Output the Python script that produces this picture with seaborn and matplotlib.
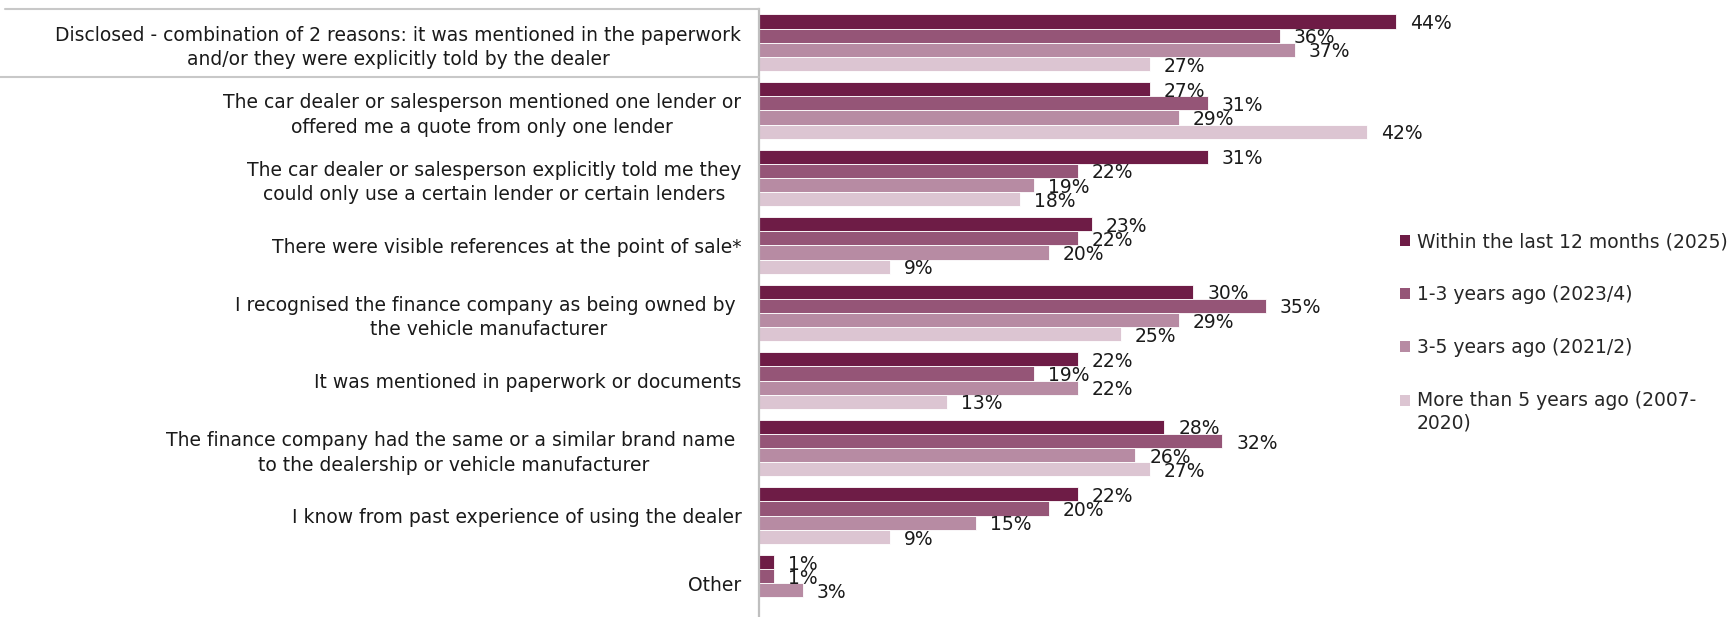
import numpy as np
import pandas as pd
import seaborn as sns
import matplotlib.pyplot as plt
from matplotlib.patches import Patch, Rectangle
from matplotlib.legend_handler import HandlerPatch
from matplotlib.lines import Line2D
from matplotlib.transforms import blended_transform_factory

reasons = [
    "Disclosed - combination of 2 reasons: it was mentioned in the paperwork\nand/or they were explicitly told by the dealer",
    "The car dealer or salesperson mentioned one lender or\noffered me a quote from only one lender",
    "The car dealer or salesperson explicitly told me they\ncould only use a certain lender or certain lenders",
    "There were visible references at the point of sale*",
    "I recognised the finance company as being owned by \nthe vehicle manufacturer",
    "It was mentioned in paperwork or documents",
    "The finance company had the same or a similar brand name \nto the dealership or vehicle manufacturer",
    "I know from past experience of using the dealer",
    "Other",
]
periods = [
    "Within the last 12 months (2025)",
    "1-3 years ago (2023/4)",
    "3-5 years ago (2021/2)",
    "More than 5 years ago (2007-\n2020)",
]
within_12m = [44, 27, 31, 23, 30, 22, 28, 22, 1]
years_1_3 = [36, 31, 22, 22, 35, 19, 32, 20, 1]
years_3_5 = [37, 29, 19, 20, 29, 22, 26, 15, 3]
over_5y = [27, 42, 18, 9, 25, 13, 27, 9, np.nan]

colors = ["#6E1C46", "#955577", "#B78BA3", "#DCC5D2"]

series = [within_12m, years_1_3, years_3_5, over_5y]
df = pd.DataFrame(
    [(r, p, v) for p, vals in zip(periods, series) for r, v in zip(reasons, vals)],
    columns=["reason", "period", "pct"],
)

sns.set_style("white")
plt.rcParams["font.family"] = ["DejaVu Sans"]
FS = 13.5

W, H = 1731, 617
fig = plt.figure(figsize=(W / 100, H / 100), dpi=100)
x0 = 759.5 / W
ax = fig.add_axes([x0, 0.0, 50 * 14.46 / W, 1 - 9 / H])

sns.barplot(
    data=df, y="reason", x="pct", hue="period", orient="h",
    order=reasons, hue_order=periods, palette=colors, saturation=1,
    width=0.84, errorbar=None, edgecolor="white", linewidth=0.6,
    legend=False, ax=ax,
)

for cont in ax.containers:
    labels = ["" if np.isnan(v) else f"{v:.0f}%" for v in cont.datavalues]
    anns = ax.bar_label(cont, labels=labels, padding=10, fontsize=FS, color="#1a1a1a")
    for a in anns:
        a.xyann = (10, -1.5)

ax.set_xlim(0, 50)
ax.set_ylim(len(reasons) - 0.5, -0.5)
ax.set_xlabel("")
ax.set_ylabel("")
ax.set_xticks([])
ax.tick_params(axis="y", length=0, pad=13, labelsize=FS, labelcolor="#1a1a1a")
for lab in ax.get_yticklabels():
    lab.set_multialignment("center")
    lab.set_linespacing(1.36)
for side in ["top", "right", "bottom"]:
    ax.spines[side].set_visible(False)
ax.spines["left"].set_color("#BFBFBF")
ax.spines["left"].set_linewidth(1.6)

# box lines around the first category label
tr = blended_transform_factory(fig.transFigure, ax.transData)
fig.add_artist(Line2D([5 / W, x0], [-0.5, -0.5], transform=tr, color="#C8C8C8", lw=1.5))
fig.add_artist(Line2D([0, x0], [0.5, 0.5], transform=tr, color="#C8C8C8", lw=1.5))


class FirstLineSquare(HandlerPatch):
    """Square legend marker aligned with the first line of a wrapped label."""

    def __init__(self, extra_lines=0, **kw):
        super().__init__(**kw)
        self.extra_lines = extra_lines

    def create_artists(self, legend, orig_handle, xdescent, ydescent, width,
                       height, fontsize, trans):
        shift = self.extra_lines * fontsize * 0.64
        p = Rectangle((-xdescent, -ydescent + shift), width, height)
        self.update_prop(p, orig_handle, legend)
        p.set_transform(trans)
        return [p]


handles = [Patch(facecolor=c, edgecolor="none") for c in colors]
hmap = {h: FirstLineSquare(extra_lines=lab.count("\n")) for h, lab in zip(handles, periods)}
fig.legend(
    handles, periods, handler_map=hmap, loc="upper left",
    bbox_to_anchor=(1400 / W, 1 - 232 / H), frameon=False, fontsize=FS,
    handlelength=0.55, handleheight=0.55, handletextpad=0.35,
    labelspacing=1.82, borderpad=0, borderaxespad=0,
)

fig.savefig("out.png", dpi=100)
